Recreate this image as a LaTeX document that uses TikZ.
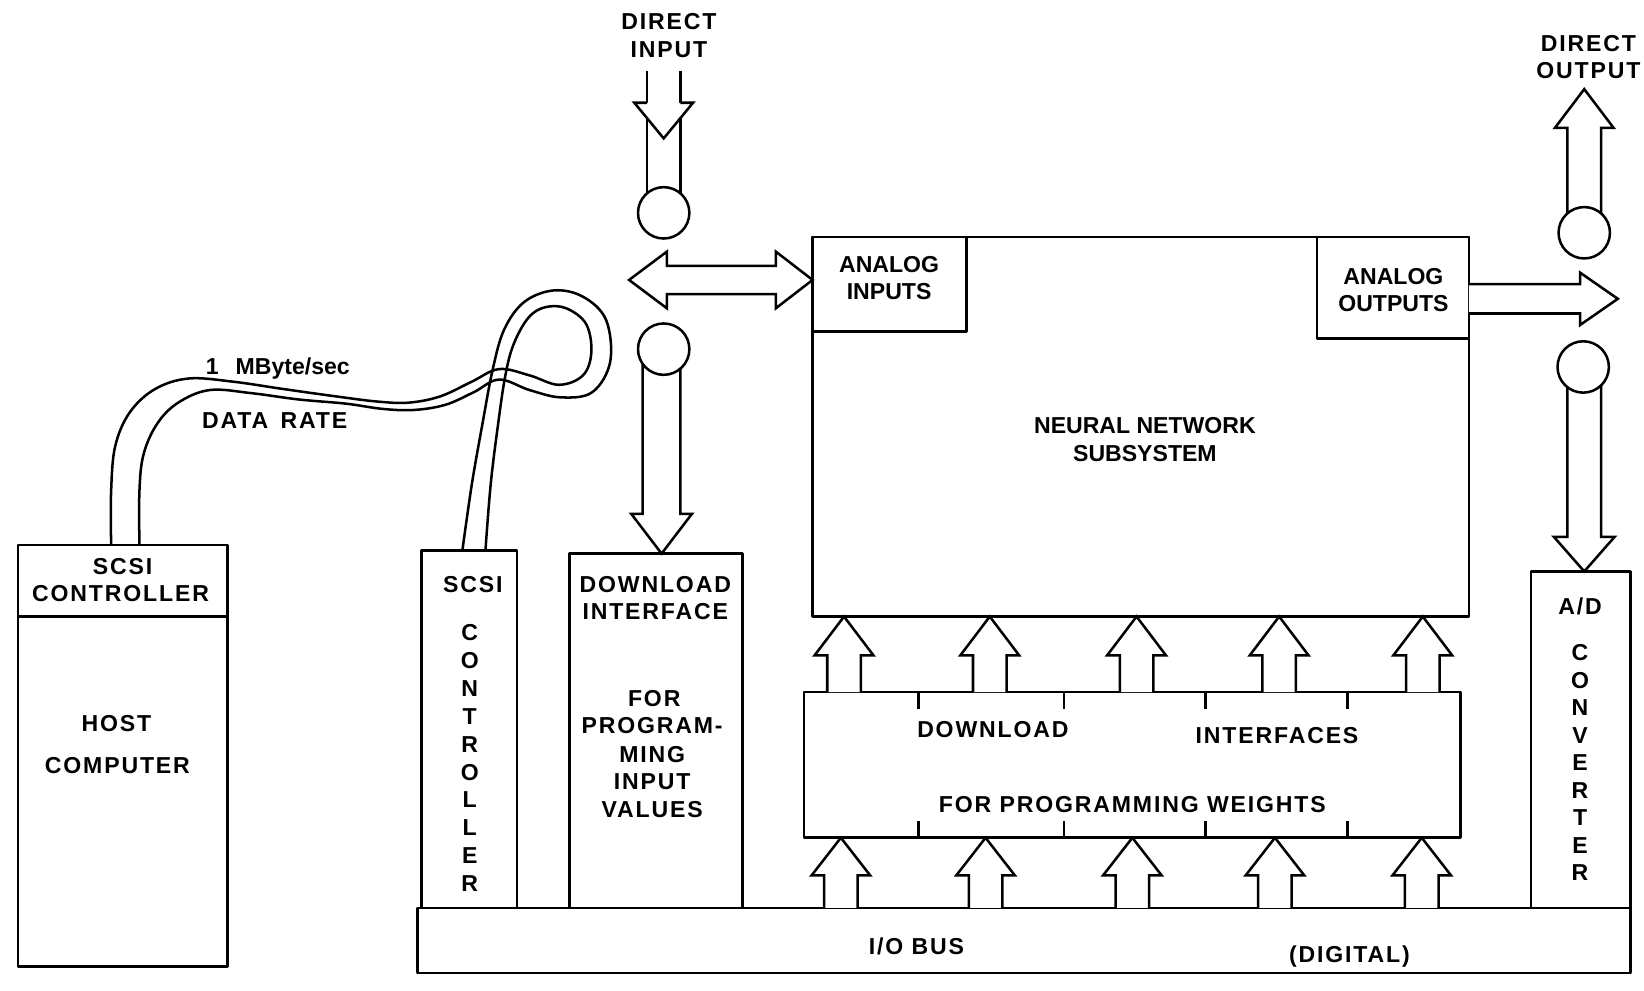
\documentclass[tikz,border=0pt]{standalone}
\usepackage{fontspec}
\setmainfont{Liberation Sans}
\newfontfamily\spc{Liberation Sans}[LetterSpace=8]
\usetikzlibrary{calc}
% vertical fat arrow: #1 base, #2 tip, #3 shaft half width, #4 head half width, #5 signed head length (tip -> head base)
\newcommand\varrow[5]{%
  \draw[arr] ($(#1)+(-#3,0)$) -- ($(#2)+(-#3,#5)$) -- ($(#2)+(-#4,#5)$) -- (#2)
     -- ($(#2)+(#4,#5)$) -- ($(#2)+(#3,#5)$) -- ($(#1)+(#3,0)$);}
% horizontal fat arrow
\newcommand\harrow[5]{%
  \draw[arr] ($(#1)+(0,-#3)$) -- ($(#2)+(#5,-#3)$) -- ($(#2)+(#5,-#4)$) -- (#2)
     -- ($(#2)+(#5,#4)$) -- ($(#2)+(#5,#3)$) -- ($(#1)+(0,#3)$);}
\begin{document}
\begin{tikzpicture}[x=1pt,y=-1pt,line width=2.4pt,line join=round,
  box/.style={draw,inner sep=0,outer sep=0},
  lbl/.style={inner sep=0,anchor=base,font=\spc\bfseries\fontsize{22}{26}\selectfont},
  plbl/.style={inner sep=0,anchor=base,font=\bfseries\fontsize{22}{26}\selectfont},
  ring/.style={draw,circle,fill=white,minimum size=49pt,inner sep=0},
  arr/.style={draw,fill=white,line join=miter}]
\useasboundingbox (0,0) rectangle (1568,945);

% ---------- boxes ----------
\node[box,minimum width=200pt,minimum height=402pt] (host) at (117,721) {};
\draw (host.west |- 0,588) -- (host.east |- 0,588);
\node[box,minimum width=91pt,minimum height=341pt] (scsi) at (447.5,695.5) {};
\node[box,minimum width=165pt,minimum height=338pt] (dl) at (625.5,697) {};
\node[box,minimum width=1157pt,minimum height=62pt] (bus) at (976.5,897) {};
\node[box,minimum width=626pt,minimum height=362pt] (nn) at (1088,407) {};
\node[box,minimum width=147pt,minimum height=90pt] (ai) at (848.5,271) {};
\node[box,minimum width=145pt,minimum height=97pt] (ao) at (1328.5,274.5) {};
\node[box,minimum width=626pt,minimum height=139pt] (dif) at (1080,729.5) {};
\node[box,minimum width=95pt,minimum height=321pt] (ad) at (1507.5,705.5) {};

\foreach \x in {876,1015,1150,1285} {
  \draw (\x,0 |- dif.north) -- ++(0,16);
  \draw (\x,0 |- dif.south) -- ++(0,-16);
}

% ---------- cable ----------
\draw plot[smooth,tension=0.6] coordinates {(106,520) (106,468) (110,425) (124,393) (148,371) (180,361) (222,364) (270,371) (320,378) (360,383) (390,384) (420,378) (450,364) (476,352) (505,358) (533,367) (556,358) (564,336) (559,309) (540,294) (520,293) (504,303) (490,328) (482,358) (475,405) (468,462) (463,525)};
\draw plot[smooth,tension=0.6] coordinates {(133,520) (133,468) (137,433) (150,404) (170,384) (200,372) (240,375) (285,381) (330,385) (365,390) (395,391) (425,386) (452,374) (476,362) (505,372) (535,379) (565,374) (582,345) (578,305) (556,283) (528,277) (500,288) (481,314) (470,352) (460,405) (450,462) (441,525)};

% ---------- direct input tube with arrow head ----------
\coordinate (dinTop) at (633,68);
\draw (617,68) -- (617,203) (649,68) -- (649,203);
\fill[white] (605,98) -- (633,132) -- (661,98) -- cycle;
\draw[line join=miter] (617,98) -- (605,98) -- (633,132) -- (661,98) -- (649,98);

% double arrow to analog inputs
\coordinate (dblR) at (nn.west |- 0,267);
\draw[arr] (600,267) -- (636,240) -- (636,253.5) -- (740,253.5) -- (740,240) -- (dblR)
  -- (740,294) -- (740,280.5) -- (636,280.5) -- (636,294) -- cycle;

% down arrow from circle 2 to download interface
\coordinate (c2b) at (631,333);
\coordinate (c2t) at (631,0 |- dl.north);
\varrow{c2b}{c2t}{18}{29}{-38}

% output arrow
\coordinate (aob) at (ao.east |- 0,285);
\coordinate (aot) at (1543,285);
\harrow{aob}{aot}{14}{25}{-36}

% direct output arrow
\coordinate (dob) at (1511,222);
\coordinate (dot) at (1511,85);
\varrow{dob}{dot}{16}{28}{37}

% arrow from circle 4 to A/D
\coordinate (c4b) at (1511,350);
\coordinate (c4t) at (1511,0 |- ad.north);
\varrow{c4b}{c4t}{16}{29}{-33}

% arrows download interfaces -> neural network
\foreach \x [count=\i] in {805,944,1084,1220,1357} {
  \coordinate (ub\i) at (\x,0 |- dif.north);
  \coordinate (ut\i) at (\x,0 |- nn.south);
  \varrow{ub\i}{ut\i}{16}{28}{37}
}
% arrows bus -> download interfaces
\foreach \x [count=\i] in {802,940,1080,1216,1356} {
  \coordinate (lb\i) at (\x,0 |- bus.north);
  \coordinate (lt\i) at (\x,0 |- dif.south);
  \varrow{lb\i}{lt\i}{16}{28}{36}
}

% ---------- circles ----------
\node[ring] (c1) at (633,203) {};
\node[ring] (c2) at (633,333) {};
\node[ring] (c3) at (1511,222) {};
\node[ring] (c4) at (1510,350) {};

% ---------- labels ----------
\node[lbl] (diA) at (638,28) {DIRECT};
\node[lbl] (diB) at (638,55) {INPUT};
\node[lbl] (doA) at (1515,49) {DIRECT};
\node[lbl] (doB) at (1515,75) {OUTPUT};
\node[plbl] (rate1) at (265,357) {1\hspace{10pt} MByte/sec};
\node[lbl] (rate2) at (262,409) {DATA\hspace{4pt} RATE};

\node[lbl] (h1) at (117,548) {SCSI};
\node[lbl] (h2) at (115,574) {CONTROLLER};
\node[lbl] (h3) at (111,698) {HOST};
\node[lbl] (h4) at (112,738) {COMPUTER};

\node[lbl] (s0) at (451,565) {SCSI};
\foreach \c [count=\i] in {C,O,N,T,R,O,L,L,E,R}
  \node[lbl] (sc\i) at (448,{611+26.6*(\i-1)}) {\c};

\node[lbl] (d1) at (625,565) {DOWNLOAD};
\node[lbl] (d2) at (625,591) {INTERFACE};
\node[lbl] (d3) at (624,674) {FOR};
\node[lbl] (d4) at (622,700) {PROGRAM-};
\node[lbl] (d5) at (622,727) {MING};
\node[lbl] (d6) at (622,753) {INPUT};
\node[lbl] (d7) at (622,780) {VALUES};

\node[plbl] (n1) at (1092,413) {NEURAL NETWORK};
\node[plbl] (n2) at (1092,440) {SUBSYSTEM};
\node[plbl] (ai1) at (848,260) {ANALOG};
\node[plbl] (ai2) at (848,286) {INPUTS};
\node[plbl] (ao1) at (1329,271) {ANALOG};
\node[plbl] (ao2) at (1329,297) {OUTPUTS};

\node[lbl] (w1) at (947,703) {DOWNLOAD};
\node[lbl] (w2) at (1218,709) {INTERFACES};
\node[lbl] (w3) at (1080,775) {FOR PROGRAMMING WEIGHTS};

\node[lbl] (b1) at (874,910) {I/O BUS};
\node[lbl] (b2) at (1287,918) {(DIGITAL)};

\node[lbl] (a0) at (1507,586) {A/D};
\foreach \c [count=\i] in {C,O,N,V,E,R,T,E,R}
  \node[lbl] (ac\i) at (1507,{630+26.25*(\i-1)}) {\c};
\end{tikzpicture}
\end{document}
